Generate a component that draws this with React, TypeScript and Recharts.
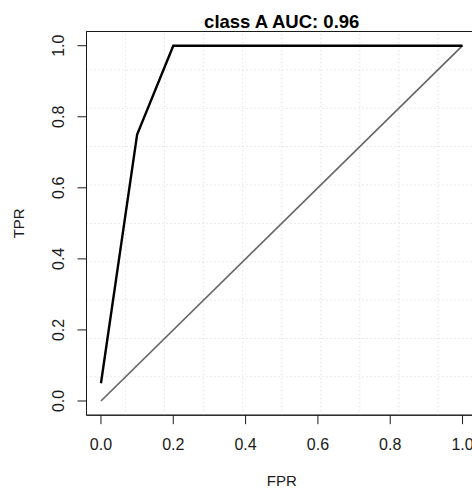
import { Label, Line, LineChart, ReferenceArea, ReferenceLine, XAxis, YAxis } from "recharts";

// ROC curve for class A
const rocFpr = [0, 0.1, 0.2, 1];
const rocTpr = [0.05, 0.75, 1, 1];

// chance diagonal
const chanceFpr = [0, 1];
const chanceTpr = [0, 1];

const axisTicks = [0, 0.2, 0.4, 0.6, 0.8, 1];
const plotTitle = "class A AUC: 0.96";
const xLabel = "FPR";
const yLabel = "TPR";

// base-graphics style range: data range padded by 4% on each side
const LO = -0.04;
const HI = 1.04;
const gridLines = Array.from({ length: 9 }, (_, k) => LO + ((HI - LO) * (k + 1)) / 10);

const FONT = '"Liberation Sans", Arial, Helvetica, sans-serif';
const INK = "#1a1a1a";

const rocData = rocFpr.map((fpr, i) => ({ fpr, tpr: rocTpr[i] }));
const chanceData = chanceFpr.map((fpr, i) => ({ fpr, tpr: chanceTpr[i] }));

function XTick(props: any) {
  const { x, y, payload } = props;
  return (
    <text x={x} y={y + 26} textAnchor="middle" fontSize={16} fontFamily={FONT} fill={INK}>
      {payload.value.toFixed(1)}
    </text>
  );
}

function YTick(props: any) {
  const { x, y, payload } = props;
  const bx = x - 13;
  return (
    <text
      x={bx}
      y={y}
      transform={`rotate(-90, ${bx}, ${y})`}
      textAnchor="middle"
      fontSize={16}
      fontFamily={FONT}
      fill={INK}
    >
      {payload.value.toFixed(1)}
    </text>
  );
}

export default function App() {
  return (
    <div
      style={{
        position: "absolute",
        left: 0,
        top: 0,
        width: 472,
        height: 488,
        overflow: "hidden",
        background: "#fff",
      }}
    >
      <LineChart
        width={480}
        height={488}
        margin={{ top: 31.5, right: 3, bottom: 32.8, left: 0 }}
      >
        {gridLines.map((v) => (
          <ReferenceLine
            key={`gx${v}`}
            x={v}
            stroke="#d6d6d6"
            strokeDasharray="1 3"
            ifOverflow="visible"
          />
        ))}
        {gridLines.map((v) => (
          <ReferenceLine
            key={`gy${v}`}
            y={v}
            stroke="#d6d6d6"
            strokeDasharray="1 3"
            ifOverflow="visible"
          />
        ))}
        <XAxis
          dataKey="fpr"
          type="number"
          domain={[LO, HI]}
          ticks={axisTicks}
          allowDataOverflow
          height={40}
          tickSize={9}
          tickMargin={0}
          tickLine={{ stroke: INK }}
          axisLine={{ stroke: INK }}
          tick={<XTick />}
        >
          <Label
            content={({ viewBox }: any) => (
              <text
                x={viewBox.x + viewBox.width / 2}
                y={485.5}
                textAnchor="middle"
                fontSize={15}
                fontFamily={FONT}
                fill={INK}
              >
                {xLabel}
              </text>
            )}
          />
        </XAxis>
        <YAxis
          dataKey="tpr"
          type="number"
          domain={[LO, HI]}
          ticks={axisTicks}
          allowDataOverflow
          width={86.5}
          tickSize={9}
          tickMargin={0}
          tickLine={{ stroke: INK }}
          axisLine={{ stroke: INK }}
          tick={<YTick />}
        >
          <Label
            content={({ viewBox }: any) => {
              const cy = viewBox.y + viewBox.height / 2;
              return (
                <text
                  x={24.5}
                  y={cy}
                  transform={`rotate(-90, 24.5, ${cy})`}
                  textAnchor="middle"
                  fontSize={15}
                  fontFamily={FONT}
                  fill={INK}
                >
                  {yLabel}
                </text>
              );
            }}
          />
        </YAxis>
        <ReferenceArea
          x1={LO}
          x2={HI}
          y1={LO}
          y2={HI}
          fill="none"
          fillOpacity={0}
          stroke={INK}
          strokeWidth={1}
          ifOverflow="visible"
        >
          <Label
            content={({ viewBox }: any) => (
              <text
                x={viewBox.x + viewBox.width / 2}
                y={viewBox.y - 3.3}
                textAnchor="middle"
                fontSize={18.5}
                fontWeight="bold"
                fontFamily={FONT}
                fill="#000"
              >
                {plotTitle}
              </text>
            )}
          />
        </ReferenceArea>
        <Line
          data={chanceData}
          dataKey="tpr"
          type="linear"
          stroke="#666666"
          strokeWidth={1.7}
          dot={false}
          activeDot={false}
          isAnimationActive={false}
        />
        <Line
          data={rocData}
          dataKey="tpr"
          type="linear"
          stroke="#000"
          strokeWidth={2.4}
          dot={false}
          activeDot={false}
          isAnimationActive={false}
        />
      </LineChart>
    </div>
  );
}
